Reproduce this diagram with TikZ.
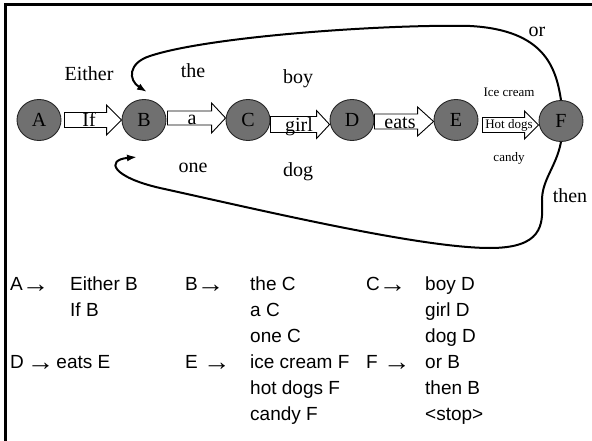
\documentclass[tikz,border=0pt]{standalone}
\usepackage{fontspec}
\usepackage{graphicx}
\setmainfont{Liberation Serif}
\setsansfont{Liberation Sans}
\usetikzlibrary{shapes.geometric,arrows.meta,calc}
\definecolor{nodegray}{RGB}{112,112,112}
\newcommand\rarr{\raisebox{-2.2pt}{\scalebox{1.45}[1.35]{\bfseries →}}}
\tikzset{
  state/.style={ellipse, draw=black!85, line width=0.9pt, fill=nodegray,
    minimum width=44pt, minimum height=41pt, inner sep=0pt,
    font=\fontsize{20}{20}\selectfont},
  blk/.style={draw=black, line width=0.9pt, fill=white},
  lab/.style={anchor=base, inner sep=0pt, font=\fontsize{20}{20}\selectfont},
  smalllab/.style={anchor=base, inner sep=0pt, font=\fontsize{13}{13}\selectfont},
  gram/.style={anchor=base west, inner sep=0pt, font=\sffamily\fontsize{19}{19}\selectfont},
  loopline/.style={line width=2pt, -{Latex[length=10pt,width=7pt]}},
}
% block arrow from node #1 to node #2: start gap #3, vertical offset #4 (down),
% shaft half-height #5, head half-height #6, head length #7
\newcommand\blockarrow[7]{%
  \path[blk] let \p1=(#1.east), \p2=(#2.west) in
    (\x1+#3pt, {\y1-(#4)*1pt+(#5)*1pt}) --
    (\x2-#7pt, {\y1-(#4)*1pt+(#5)*1pt}) --
    (\x2-#7pt, {\y1-(#4)*1pt+(#6)*1pt}) --
    (\x2, {\y1-(#4)*1pt}) --
    (\x2-#7pt, {\y1-(#4)*1pt-(#6)*1pt}) --
    (\x2-#7pt, {\y1-(#4)*1pt-(#5)*1pt}) --
    (\x1+#3pt, {\y1-(#4)*1pt-(#5)*1pt}) -- cycle;}
\begin{document}
\begin{tikzpicture}[x=1pt,y=-1pt]
\useasboundingbox (0,0) rectangle (592,441);
% frame (top and left edges visible)
\draw[line width=3pt] (5.5,441) -- (5.5,4.5) -- (592,4.5);

% states
\node[state] (A) at (39,120) {A};
\node[state] (B) at (144,120) {B};
\node[state] (C) at (248,120) {C};
\node[state] (D) at (352,120) {D};
\node[state] (E) at (456,120) {E};
\node[state] (F) at (561,121) {F};

% block arrows
\blockarrow{A}{B}{3}{0}{7.5}{15}{15}
\blockarrow{B}{C}{1}{-2}{7}{15}{14}
\blockarrow{C}{D}{0}{4.5}{8}{14}{13}
\blockarrow{D}{E}{0}{1.5}{7.5}{14.5}{16}
\blockarrow{E}{F}{4}{5}{7.5}{14}{14}

% labels on arrows
\node[lab] (lif) at (89,127) {If};
\node[lab] (la) at (192,125) {a};
\node[lab] (lgirl) at (299,132) {girl};
\node[lab] (leats) at (400,129) {eats};
\node[smalllab] (lhot) at (509,129) {Hot dogs};

% other labels
\node[lab] (leither) at (89,81) {Either};
\node[lab] (lthe) at (193,78) {the};
\node[lab] (lboy) at (298,84) {boy};
\node[lab] (lone) at (193,172) {one};
\node[lab] (ldog) at (298,177) {dog};
\node[smalllab] (lice) at (509,97) {Ice cream};
\node[smalllab] (lcandy) at (509,161) {candy};
\node[lab] (lor) at (537,37) {or};
\node[lab] (lthen) at (570,202) {then};

% loops back to B
\coordinate (tipTop) at (147,92);
\coordinate (tipBot) at (137,157);
\draw[loopline] (F.north) .. controls (556,68) and (545,30) .. (470,26)
  .. controls (390,24) and (210,36) .. (150,56)
  .. controls (128,63) and (128,80) .. (tipTop);
\draw[loopline] (F.south) .. controls (556,168) and (541,180) .. (542,203)
  .. controls (543,225) and (542,248) .. (490,248)
  .. controls (420,248) and (260,210) .. (160,188)
  .. controls (112,177) and (105,160) .. (tipBot);

% grammar
\node[gram] (g11) at (10,290) {A\hspace{-1pt}\rarr};
\node[gram] (g12) at (70,290) {Either B};
\node[gram] (g13) at (185,290) {B\hspace{-1pt}\rarr};
\node[gram] (g14) at (250,290) {the C};
\node[gram] (g15) at (366,290) {C\hspace{-1pt}\rarr};
\node[gram] (g16) at (425,290) {boy D};
\node[gram] (g22) at (70,316) {If B};
\node[gram] (g24) at (250,316) {a C};
\node[gram] (g26) at (425,316) {girl D};
\node[gram] (g34) at (250,342) {one C};
\node[gram] (g36) at (425,342) {dog D};
\node[gram] (g41) at (10,368) {D\hspace{3pt}\rarr\hspace{2pt}eats E};
\node[gram] (g43) at (185,368) {E \rarr};
\node[gram] (g44) at (250,368) {ice cream F};
\node[gram] (g45) at (366,368) {F \rarr};
\node[gram] (g46) at (425,368) {or B};
\node[gram] (g54) at (250,394) {hot dogs F};
\node[gram] (g56) at (425,394) {then B};
\node[gram] (g64) at (250,420) {candy F};
\node[gram] (g66) at (425,420) {<stop>};
\end{tikzpicture}
\end{document}
